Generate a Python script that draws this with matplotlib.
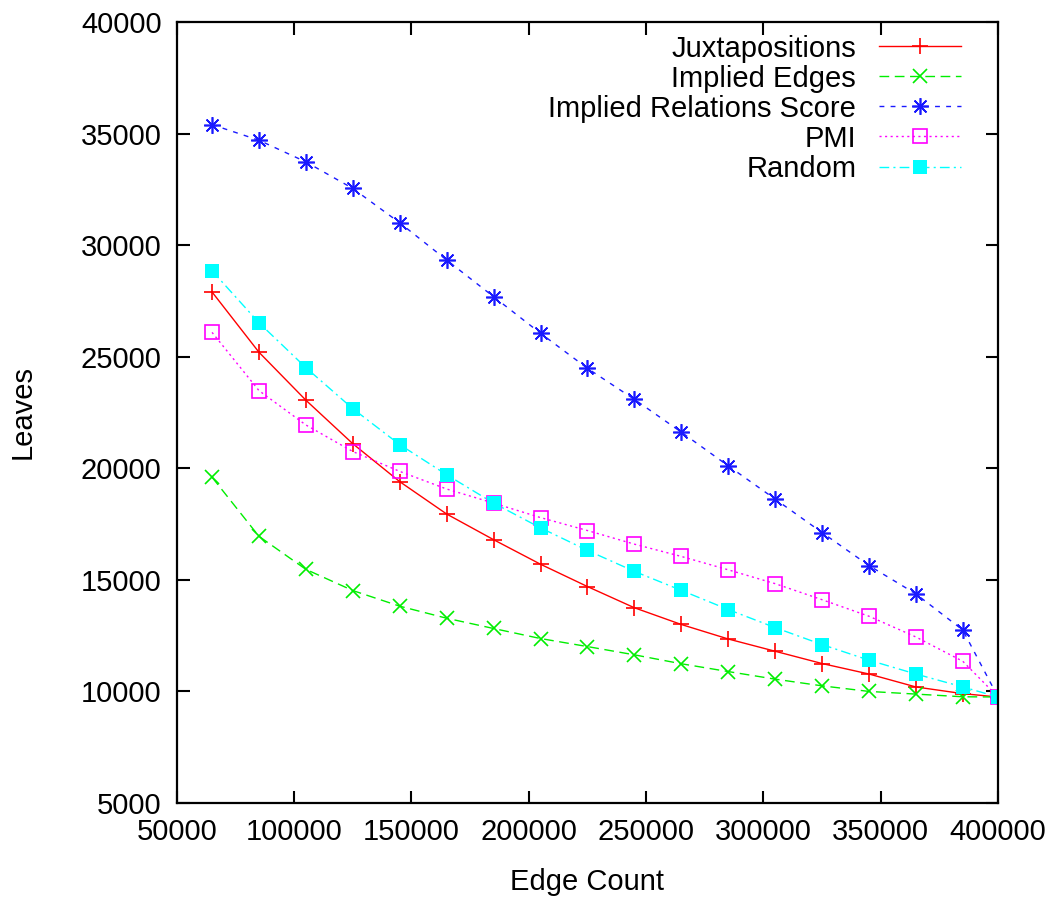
import matplotlib.pyplot as plt
import numpy as np

plt.rcParams['font.family'] = ['Liberation Sans', 'DejaVu Sans']

edges = [65000, 85000, 105000, 125000, 145000, 165000, 185000, 205000, 225000,
         245000, 265000, 285000, 305000, 325000, 345000, 365000, 385000, 400000]

juxtapositions = [27900, 25200, 23050, 21100, 19400, 17950, 16800, 15700, 14700,
                  13750, 13000, 12350, 11800, 11250, 10780, 10200, 9900, 9750]
implied_edges = [19600, 16950, 15470, 14520, 13820, 13280, 12820, 12370, 12010,
                 11640, 11240, 10890, 10550, 10250, 10000, 9880, 9760, 9750]
implied_relations = [35400, 34700, 33730, 32540, 31000, 29330, 27690, 26050, 24480,
                     23090, 21620, 20110, 18620, 17120, 15640, 14370, 12750, 9750]
pmi = [26090, 23480, 21940, 20750, 19860, 19070, 18440, 17790, 17210,
       16600, 16050, 15450, 14830, 14110, 13370, 12440, 11350, 9750]
random_ = [28850, 26520, 24510, 22670, 21060, 19710, 18440, 17330, 16320,
           15380, 14530, 13670, 12860, 12100, 11400, 10780, 10200, 9750]

fig, ax = plt.subplots(figsize=(10.59, 8.97), dpi=100)
fig.subplots_adjust(left=0.167, right=0.9424, top=0.9755, bottom=0.1048)

lw = 1.0
ax.plot(edges, juxtapositions, color='#ff0000', lw=lw, ls='-', marker='+',
        ms=12, mew=1.2, label='Juxtapositions')
ax.plot(edges, implied_edges, color='#00ee00', lw=lw, ls=(0, (7, 4)), marker='x',
        ms=10, mew=1.2, label='Implied Edges')
ax.plot(edges, implied_relations, color='#1a1aff', lw=lw, ls=(0, (3.5, 4.5)),
        marker=(8, 2, 0), ms=12, mew=1.2, label='Implied Relations Score')
ax.plot(edges, pmi, color='#ff00ff', lw=lw, ls=(0, (1.5, 2.5)), marker='s',
        ms=10, mfc='none', mew=1.2, label='PMI')
ax.plot(edges, random_, color='#00ffff', lw=lw, ls=(0, (7, 3, 1.5, 3)), marker='s',
        ms=10, mew=0, label='Random')

ax.set_xlim(50000, 400000)
ax.set_ylim(5000, 40000)
ax.set_xticks(np.arange(50000, 400001, 50000))
ax.set_yticks(np.arange(5000, 40001, 5000))
ax.tick_params(direction='in', length=9, width=1.5, labelsize=21,
               top=True, right=True)
ax.tick_params(axis='x', pad=11)
ax.tick_params(axis='y', pad=11)
for s in ax.spines.values():
    s.set_linewidth(1.6)

ax.set_xlabel('Edge Count', fontsize=21, labelpad=16)
ax.set_ylabel('Leaves', fontsize=21, labelpad=32)

ax.legend(loc='upper right', bbox_to_anchor=(0.98, 1.01), frameon=False,
          markerfirst=False, fontsize=21, handlelength=2.8, labelspacing=0.07,
          handletextpad=0.8, borderaxespad=0.3)

fig.savefig('out.png', dpi=100)
